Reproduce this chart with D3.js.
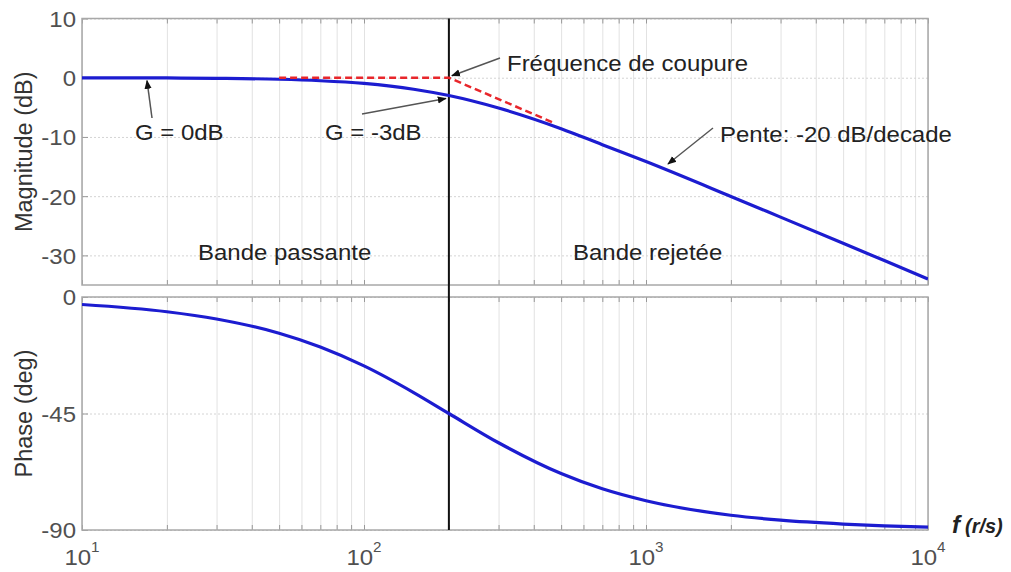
<!DOCTYPE html>
<html>
<head>
<meta charset="utf-8">
<script src="https://cdn.jsdelivr.net/npm/d3@7"></script>
<style>
  html, body { margin: 0; padding: 0; background: #fff; }
  svg { display: block; }
  text { font-family: "Liberation Sans", Arial, sans-serif; }
</style>
</head>
<body>
<svg id="chart" width="1011" height="572"></svg>
<script>
// ---- Data ----
const freq = [10, 20, 30, 50, 70, 100, 150, 200, 300, 500, 700, 1000, 2000, 3000, 5000, 7000, 10000];
const magnitude = [-0.01, -0.04, -0.1, -0.26, -0.51, -0.97, -1.94, -3.01, -5.12, -8.6, -11.3, -14.15, -20.04, -23.54, -27.96, -30.88, -33.98];
const phase = [-2.9, -5.7, -8.5, -14.0, -19.3, -26.6, -36.9, -45, -56.3, -68.2, -74.1, -78.7, -84.3, -86.2, -87.7, -88.4, -88.9];
const asymFreq = [50, 200, 470];
const asymMag = [0, 0, -7.6];
const cutoff = 200;
const magTicks = [10, 0, -10, -20, -30];
const phaseTicks = [0, -45, -90];
const decadeTicks = [10, 100, 1000, 10000];
const decadeExp = ["1", "2", "3", "4"];

// ---- Layout ----
const svg = d3.select("#chart");
const L = 82, R = 928;
const magTop = 18.5, magBot = 285;
const phTop = 297, phBot = 530;
const SX = 1.09; // horizontal stretch of the reference's text

const x = d3.scaleLog().domain([10, 10000]).range([L, R]);
const yMag = d3.scaleLinear().domain([-35, 10]).range([magBot, magTop]);
const yPh = d3.scaleLinear().domain([-90, 0]).range([phBot, phTop]);

// minor frequencies for grid
const minorFreq = [];
[10, 100, 1000].forEach(d => { for (let k = 1; k <= 9; k++) minorFreq.push(d * k); });
minorFreq.push(10000);

const gridColor = "#e2e2e2";
const frameColor = "#a8a8a8";
const tickTextColor = "#505050";

function panel(yScale, top, bot, yTicks) {
  const g = svg.append("g");
  g.append("g")
    .attr("transform", `translate(0,${bot})`)
    .call(d3.axisBottom(x).tickValues(minorFreq).tickSize(-(bot - top)).tickFormat(""))
    .call(s => s.select(".domain").remove())
    .call(s => s.selectAll("line").attr("stroke", gridColor).attr("stroke-width", 1));
  g.append("g")
    .attr("transform", `translate(${L},0)`)
    .call(d3.axisLeft(yScale).tickValues(yTicks).tickSize(-(R - L)).tickFormat(""))
    .call(s => s.select(".domain").remove())
    .call(s => s.selectAll("line").attr("stroke", "#d4d4d4").attr("stroke-dasharray", "2,2"));
  g.append("g")
    .attr("transform", `translate(0,${bot})`)
    .call(d3.axisBottom(x).tickValues(minorFreq).tickSize(-5).tickFormat(""))
    .call(s => s.select(".domain").remove())
    .call(s => s.selectAll("line").attr("stroke", "#999"));
  g.append("g")
    .attr("transform", `translate(0,${top})`)
    .call(d3.axisTop(x).tickValues(minorFreq).tickSize(-5).tickFormat(""))
    .call(s => s.select(".domain").remove())
    .call(s => s.selectAll("line").attr("stroke", "#999"));
  const ya = g.append("g")
    .attr("transform", `translate(${L},0)`)
    .call(d3.axisLeft(yScale).tickValues(yTicks).tickSize(-6).tickPadding(6).tickFormat(d => String(d)));
  ya.select(".domain").remove();
  ya.selectAll("line").attr("stroke", "#999");
  ya.selectAll(".tick text").each(function () {
    const t = d3.select(this);
    t.attr("font-size", 22).attr("fill", tickTextColor)
     .attr("font-family", "Liberation Sans, Arial, sans-serif").attr("dy", "0.36em")
     .attr("transform", `translate(-6,0) scale(${SX},1) translate(6,0)`);
  });
  g.append("rect").attr("x", L).attr("y", top).attr("width", R - L).attr("height", bot - top)
    .attr("fill", "none").attr("stroke", frameColor).attr("stroke-width", 1.5);
  return g;
}

panel(yMag, magTop, magBot, magTicks);
panel(yPh, phTop, phBot, phaseTicks);

const defs = svg.append("defs");
defs.append("clipPath").attr("id", "clipMag").append("rect")
  .attr("x", L).attr("y", magTop).attr("width", R - L).attr("height", magBot - magTop);
defs.append("clipPath").attr("id", "clipPh").append("rect")
  .attr("x", L).attr("y", phTop).attr("width", R - L).attr("height", phBot - phTop);
defs.append("marker").attr("id", "arrow").attr("viewBox", "0 0 10 10")
  .attr("refX", 9).attr("refY", 5).attr("markerWidth", 9).attr("markerHeight", 9)
  .attr("markerUnits", "userSpaceOnUse").attr("orient", "auto")
  .append("path").attr("d", "M0,1 L10,5 L0,9 Z").attr("fill", "#111");

// cutoff vertical line
svg.append("line")
  .attr("x1", x(cutoff)).attr("x2", x(cutoff))
  .attr("y1", magTop).attr("y2", phBot)
  .attr("stroke", "#111").attr("stroke-width", 2);

const magData = freq.map((f, i) => [f, magnitude[i]]);
const phData = freq.map((f, i) => [f, phase[i]]);
svg.append("path").datum(magData)
  .attr("clip-path", "url(#clipMag)")
  .attr("fill", "none").attr("stroke", "#1c1cd0").attr("stroke-width", 3.2)
  .attr("d", d3.line().x(d => x(d[0])).y(d => yMag(d[1])).curve(d3.curveMonotoneX));

svg.append("path").datum(asymFreq.map((f, i) => [f, asymMag[i]]))
  .attr("fill", "none").attr("stroke", "#e8262b").attr("stroke-width", 2.5)
  .attr("stroke-dasharray", "7,4")
  .attr("d", d3.line().x(d => x(d[0])).y(d => yMag(d[1])));

svg.append("path").datum(phData)
  .attr("clip-path", "url(#clipPh)")
  .attr("fill", "none").attr("stroke", "#1c1cd0").attr("stroke-width", 3.2)
  .attr("d", d3.line().x(d => x(d[0])).y(d => yPh(d[1])).curve(d3.curveMonotoneX));

// stretched text helper
function stext(parent, px, py, str, anchor) {
  return parent.append("text")
    .attr("transform", `translate(${px},${py}) scale(${SX},1)`)
    .attr("text-anchor", anchor || "start")
    .text(str);
}

// x tick labels with exponents
const xl = svg.append("g").attr("font-size", 22).attr("fill", tickTextColor);
decadeTicks.forEach((f, i) => {
  const t = xl.append("text")
    .attr("transform", `translate(${x(f)},565) scale(${SX},1)`)
    .attr("text-anchor", "middle");
  t.append("tspan").text("10");
  t.append("tspan").attr("dy", -13).attr("font-size", 14).text(decadeExp[i]);
});

// axis titles
svg.append("text").attr("transform", `translate(32,${(magTop + magBot) / 2}) rotate(-90)`)
  .attr("text-anchor", "middle").attr("font-size", 23.5).attr("fill", "#333")
  .text("Magnitude (dB)");
svg.append("text").attr("transform", `translate(32,${(phTop + phBot) / 2}) rotate(-90)`)
  .attr("text-anchor", "middle").attr("font-size", 23.5).attr("fill", "#333")
  .text("Phase (deg)");

// f (r/s)
const fl = svg.append("text").attr("x", 952).attr("y", 533).attr("fill", "#222")
  .attr("font-family", "Liberation Serif, Times New Roman, serif").attr("font-style", "italic")
  .attr("font-weight", "bold");
fl.append("tspan").attr("font-size", 24).text("f");
fl.append("tspan").attr("font-size", 20).attr("dx", 5).text("(r/s)");

// annotations
const ann = svg.append("g").attr("font-size", 22).attr("fill", "#222");
function arrow(x1, y1, x2, y2) {
  svg.append("line").attr("x1", x1).attr("y1", y1).attr("x2", x2).attr("y2", y2)
    .attr("stroke", "#555").attr("stroke-width", 1.5).attr("marker-end", "url(#arrow)");
}
stext(ann, 507, 71, "Fréquence de coupure");
arrow(500, 58, x(cutoff) + 3, yMag(0) - 2);
stext(ann, 135, 140, "G = 0dB");
arrow(152, 118, 147, yMag(0) + 3);
stext(ann, 325, 140, "G = -3dB");
arrow(362, 114, x(cutoff) - 3, yMag(-3) + 3);
stext(ann, 720, 142, "Pente: -20 dB/decade");
arrow(713, 128, 668, 164);
stext(ann, 198, 260, "Bande passante");
stext(ann, 573, 260, "Bande rejetée");
</script>
</body>
</html>
